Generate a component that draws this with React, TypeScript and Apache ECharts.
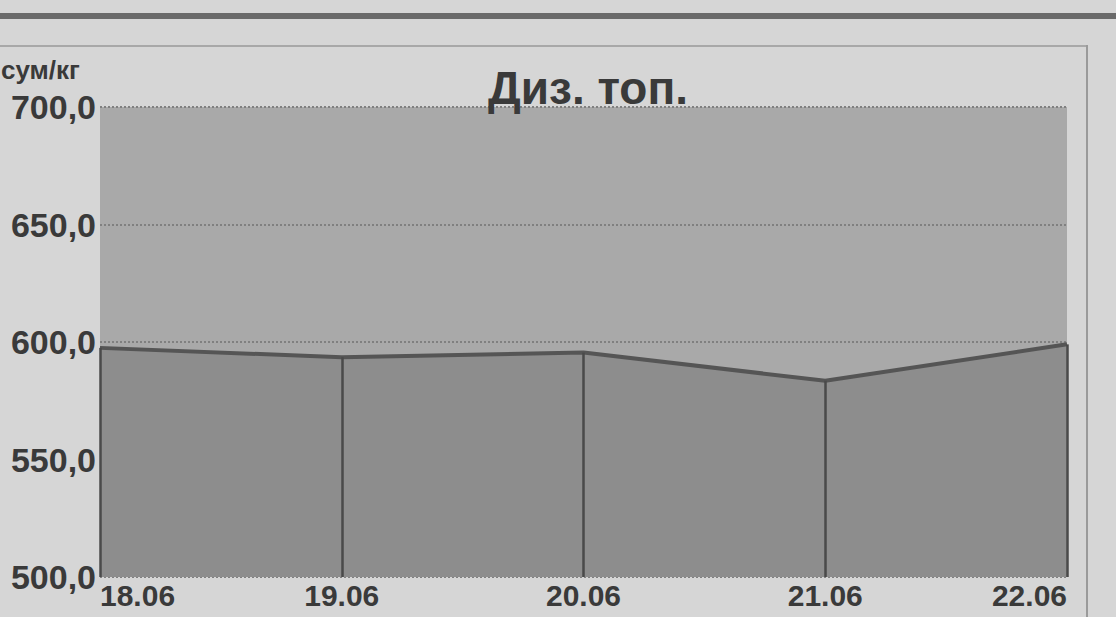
import React, { useEffect, useRef } from "react";
import * as echarts from "echarts";

const categories = ["18.06", "19.06", "20.06", "21.06", "22.06"];
const prices = [597.5, 593.5, 595.5, 583.5, 599];
const yMin = 500;
const yMax = 700;
const yStep = 50;
const titleText = "Диз. топ.";
const unitText = "сум/кг";

export default function App() {
  const ref = useRef<HTMLDivElement>(null);
  useEffect(() => {
    if (!ref.current) return;
    const chart = echarts.init(ref.current, null, { renderer: "svg" });
    const font = "'Liberation Sans', Arial, sans-serif";
    const dropLines = categories.map((c, i) => [
      { xAxis: c, yAxis: yMin },
      { xAxis: c, yAxis: prices[i] },
    ]);
    chart.setOption({
      animation: false,
      backgroundColor: "#d6d6d6",
      title: {
        text: titleText,
        left: 583,
        textAlign: "center",
        top: 60,
        textStyle: { fontFamily: font, fontSize: 46, fontWeight: "bold", color: "#3a3a3a" },
      },
      graphic: [
        { type: "rect", shape: { x: 0, y: 13, width: 1116, height: 6 }, style: { fill: "#6a6a6a" } },
        { type: "rect", shape: { x: 0, y: 45, width: 1087, height: 2 }, style: { fill: "#a8a8a8" } },
        { type: "rect", shape: { x: 1086, y: 45, width: 2, height: 572 }, style: { fill: "#9a9a9a" } },
        {
          type: "text",
          left: 1,
          top: 57,
          style: { text: unitText, font: `bold 26px ${font}`, fill: "#3a3a3a" },
        },
      ],
      grid: {
        left: 100,
        right: 49,
        top: 107,
        bottom: 40,
        show: true,
        backgroundColor: "#a9a9a9",
        borderWidth: 0,
      },
      xAxis: {
        type: "category",
        data: categories,
        boundaryGap: false,
        axisLine: { show: false },
        axisTick: { show: false },
        splitLine: { show: false },
        axisLabel: {
          fontFamily: font,
          fontSize: 30,
          fontWeight: "bold",
          color: "#3a3a3a",
          margin: 3,
          alignMinLabel: "left",
          alignMaxLabel: "right",
        },
      },
      yAxis: {
        type: "value",
        min: yMin,
        max: yMax,
        interval: yStep,
        axisLine: { show: false },
        axisTick: { show: false },
        axisLabel: {
          fontFamily: font,
          fontSize: 34,
          fontWeight: "bold",
          color: "#3a3a3a",
          margin: 4,
          formatter: (v: number) => v.toFixed(1).replace(".", ","),
        },
        splitLine: { show: true, lineStyle: { color: "#808080", type: "dotted", width: 2 } },
      },
      series: [
        {
          type: "line",
          data: prices,
          symbol: "none",
          lineStyle: { color: "#555555", width: 4 },
          areaStyle: { color: "#8d8d8d", opacity: 1, origin: "start" },
          markLine: {
            symbol: "none",
            silent: true,
            label: { show: false },
            lineStyle: { color: "#4a4a4a", width: 2.5, type: "solid" },
            data: dropLines,
          },
        },
      ],
    });
    return () => chart.dispose();
  }, []);
  return (
    <div
      ref={ref}
      style={{ position: "fixed", left: 0, top: 0, width: 1116, height: 617 }}
    />
  );
}
